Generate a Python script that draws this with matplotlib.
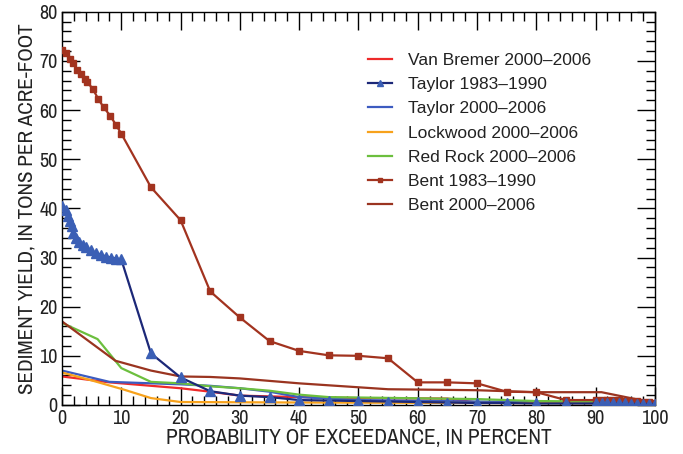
import numpy as np
import matplotlib
matplotlib.use("Agg")
from matplotlib import pyplot as plt
from matplotlib.ticker import MultipleLocator

# --- data ---
bent83_x = [0, 0.7, 1.4, 1.9, 2.6, 3.2, 3.8, 4.2, 5.2, 6.1, 7.0, 8.1, 9.1, 10,
            15, 20, 25, 30, 35, 40, 45, 50, 55, 60, 65, 70, 75, 80, 85,
            90, 91, 92, 93, 94, 95, 96, 97, 98, 99, 100]
bent83_y = [72.2, 71.6, 70.4, 69.6, 68.2, 67.4, 66.4, 65.8, 64.3, 62.3, 60.6, 58.9, 57.0, 55.2,
            44.3, 37.6, 23.1, 17.8, 13.0, 11.0, 10.1, 10.0, 9.5, 4.6, 4.6, 4.4, 2.7, 2.6, 1.0,
            1.0, 1.0, 1.0, 1.0, 1.0, 0.9, 0.9, 0.8, 0.7, 0.6, 0.5]

taylor83_x = [0, 0.6, 1.0, 1.4, 1.7, 1.9, 2.4, 2.9, 3.5, 4.0, 4.9, 5.7, 6.6, 7.4, 8.3, 9.1, 10,
              15, 20, 25, 30, 35, 40, 45, 50, 55, 60, 65, 70, 75, 80, 85,
              90, 91, 92, 93, 94, 95, 96, 97, 98, 99, 100]
taylor83_y = [40.5, 39.6, 38.4, 37.4, 36.4, 35.0, 34.0, 33.1, 32.6, 32.1, 31.5, 30.9, 30.6, 30.2, 30.0, 29.8, 29.6,
              10.5, 5.6, 2.8, 1.9, 1.6, 1.0, 0.9, 0.8, 0.7, 0.6, 0.5, 0.4, 0.4, 0.3, 0.3,
              0.3, 0.3, 0.3, 0.3, 0.3, 0.3, 0.2, 0.2, 0.2, 0.2, 0.2]

bent00_x = [0, 9, 15, 20, 25, 30, 40, 45, 50, 55, 70, 80, 91, 100]
bent00_y = [17.0, 9.0, 7.0, 5.8, 5.7, 5.4, 4.4, 4.0, 3.6, 3.2, 3.0, 2.6, 2.6, 0.4]

vanbremer_x = [0, 8, 20, 25, 30, 40, 50, 65, 70, 100]
vanbremer_y = [5.8, 4.6, 3.4, 2.7, 1.9, 1.6, 1.4, 1.3, 0.5, 0.4]

taylor00_x = [0, 8, 20, 25, 30, 35, 40, 50, 70, 100]
taylor00_y = [7.0, 4.7, 4.2, 3.9, 3.4, 2.7, 1.6, 1.0, 0.7, 0.4]

lockwood_x = [0, 5, 10.5, 15, 20, 40, 70, 100]
lockwood_y = [6.6, 5.0, 3.1, 1.4, 0.6, 0.5, 0.4, 0.3]

redrock_x = [0, 6, 10, 15, 20, 25, 30, 35, 40, 45, 70, 80, 90, 100]
redrock_y = [16.7, 13.4, 7.5, 4.7, 4.4, 3.8, 3.4, 2.9, 2.1, 1.6, 1.2, 0.8, 0.7, 0.5]

plt.rcParams['font.family'] = ['Archivo Narrow', 'DejaVu Sans']

fig = plt.figure(figsize=(6.83, 4.54), dpi=100)
ax = fig.add_axes([0.0908, 0.108, 0.868, 0.866])

lw = 1.6
ax.plot(vanbremer_x, vanbremer_y, color='#ee2a2a', lw=lw, label='Van Bremer 2000\u20132006')
ax.plot(taylor83_x, taylor83_y, color='#1c2878', lw=lw, marker='^', ms=6.5,
        mfc='#3b5fb5', mec='#3b5fb5', label='Taylor 1983\u20131990', zorder=4)
ax.plot(taylor00_x, taylor00_y, color='#3c5bc0', lw=lw, label='Taylor 2000\u20132006')
ax.plot(lockwood_x, lockwood_y, color='#f7a21c', lw=lw, label='Lockwood 2000\u20132006')
ax.plot(redrock_x, redrock_y, color='#6cbf3e', lw=lw, label='Red Rock 2000\u20132006')
ax.plot(bent83_x, bent83_y, color='#a2331f', lw=lw, marker='s', ms=4.5,
        label='Bent 1983\u20131990', zorder=3)
ax.plot(bent00_x, bent00_y, color='#9a3420', lw=lw, label='Bent 2000\u20132006')

ax.set_xlim(0, 100)
ax.set_ylim(0, 80)
ax.xaxis.set_major_locator(MultipleLocator(10))
ax.xaxis.set_minor_locator(MultipleLocator(2))
ax.yaxis.set_major_locator(MultipleLocator(10))
ax.yaxis.set_minor_locator(MultipleLocator(2))
ax.tick_params(which='both', direction='in', top=True, right=True, width=1.0,
               labelsize=14.5, pad=3, labelcolor='#222222')
ax.tick_params(which='major', length=13)
ax.tick_params(which='minor', length=6.5)
for s in ax.spines.values():
    s.set_linewidth(1.0)

ax.set_xlabel('PROBABILITY OF EXCEEDANCE, IN PERCENT', fontsize=15.4, color='#222222', labelpad=0)
ax.set_ylabel('SEDIMENT YIELD, IN TONS PER ACRE-FOOT', fontsize=15.2, color='#222222', labelpad=2)

leg = ax.legend(loc='upper left', bbox_to_anchor=(0.49, 0.935), frameon=False,
                prop={'family': ['Liberation Sans', 'DejaVu Sans'], 'size': 12.5},
                handlelength=1.4, labelspacing=0.52, handletextpad=0.9, markerscale=0.75)
for t in leg.get_texts():
    t.set_color('#222222')

fig.savefig('out.png', dpi=100)
